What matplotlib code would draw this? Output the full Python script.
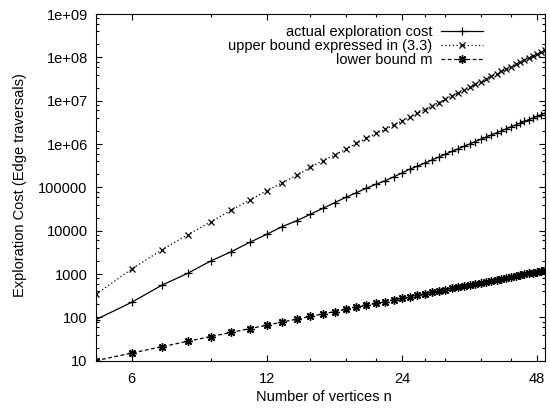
import matplotlib
matplotlib.use("Agg")
import matplotlib.pyplot as plt
from matplotlib.ticker import FixedLocator, NullFormatter

plt.rcParams['font.family'] = ['Liberation Sans', 'DejaVu Sans']

# number of vertices
n = list(range(5, 51))

# actual exploration cost
actual = [89, 222, 548, 1038, 1995, 3266, 5383, 8240, 12450, 16980,
          23820, 32810, 44160, 58880, 75160, 95500, 117500, 141300, 173800, 213800,
          263000, 309000, 365000, 429000, 501000, 582000, 672000, 773000, 884000, 1007000,
          1141000, 1289000, 1450000, 1626000, 1817000, 2024000, 2249000, 2490000, 2751000, 3031000,
          3331000, 3653000, 3996000, 4363000, 4750000, 5170000]

# upper bound expressed in (3.3)
upper = [340, 1300, 3580, 8070, 15850, 29900, 50900, 83600, 127600, 190500,
         289000, 411000, 556000, 766000, 1035000, 1349000, 1758000, 2178000, 2735000, 3390000,
         4190000, 5130000, 6240000, 7520000, 9020000, 10750000, 12720000, 14990000, 17560000, 20480000,
         23770000, 27480000, 31650000, 36280000, 41470000, 47240000, 53620000, 60650000, 68440000, 77000000,
         86430000, 96690000, 108000000, 120200000, 133600000, 148200000]

# lower bound m
lower = [10, 15, 21, 28, 36, 45, 55, 66, 78, 91,
         105, 120, 136, 153, 171, 190, 210, 231, 253, 276,
         300, 325, 351, 378, 406, 435, 465, 496, 528, 561,
         595, 630, 666, 703, 741, 780, 820, 861, 903, 946,
         990, 1035, 1081, 1128, 1176, 1225]

xticks = [6, 12, 24, 48]
xminor = [9, 15, 18, 21, 27, 30, 36, 42]
yticks = [10, 100, 1000, 1e4, 1e5, 1e6, 1e7, 1e8, 1e9]
ylabels = ["10", "100", "1000", "10000", "100000", "1e+06", "1e+07", "1e+08", "1e+09"]

fig = plt.figure(figsize=(5.5, 4.08), dpi=100)
ax = fig.add_axes([96/550, 1-360.7/408, (545-96)/550, (360.7-14)/408])

ax.plot(n, actual, color='black', lw=0.9, ls='-', marker='+', ms=6, mew=0.9,
        label='actual exploration cost')
ax.plot(n, upper, color='black', lw=0.9, ls=(0, (1, 2)), marker='x', ms=5, mew=0.9,
        label='upper bound expressed in (3.3)')
# gnuplot style asterisk (+ and x together)
ax.plot(n, lower, color='black', lw=0.9, ls=(0, (3, 2)), marker=(8, 2, 0), ms=6, mew=1.0,
        label='lower bound m')

ax.set_xscale('log', base=2)
ax.set_yscale('log')
ax.set_xlim(5, 50)
ax.set_ylim(10, 1e9)

ax.xaxis.set_major_locator(FixedLocator(xticks))
ax.xaxis.set_minor_locator(FixedLocator(xminor))
ax.set_xticklabels([str(t) for t in xticks])
ax.xaxis.set_minor_formatter(NullFormatter())

ax.yaxis.set_major_locator(FixedLocator(yticks))
ax.set_yticklabels(ylabels)
ymin = []
for d in range(1, 9):
    for k in [2, 4, 6, 8]:
        ymin.append(k * 10**d)
ax.yaxis.set_minor_locator(FixedLocator(ymin))
ax.yaxis.set_minor_formatter(NullFormatter())

ax.tick_params(which='both', direction='in', top=True, right=True, labelsize=10.5, width=0.8)
ax.tick_params(which='major', length=4)
ax.tick_params(which='minor', length=2.2)
ax.tick_params(axis='y', pad=6)
ax.tick_params(axis='x', pad=8)
for s in ax.spines.values():
    s.set_linewidth(0.8)

fig.text(324/550, 1-397/408, 'Number of vertices n', ha='center', va='center', fontsize=10.5)
fig.text(20/550, 1-185/408, 'Exploration Cost (Edge traversals)', ha='center', va='center',
         rotation=90, fontsize=10.5)

ax.legend(loc='upper right', bbox_to_anchor=(0.878, 0.99), frameon=False, markerfirst=False,
          fontsize=10.5, handlelength=2.9, handletextpad=0.55, labelspacing=0.0, borderpad=0)

fig.savefig('out.png', dpi=100)
